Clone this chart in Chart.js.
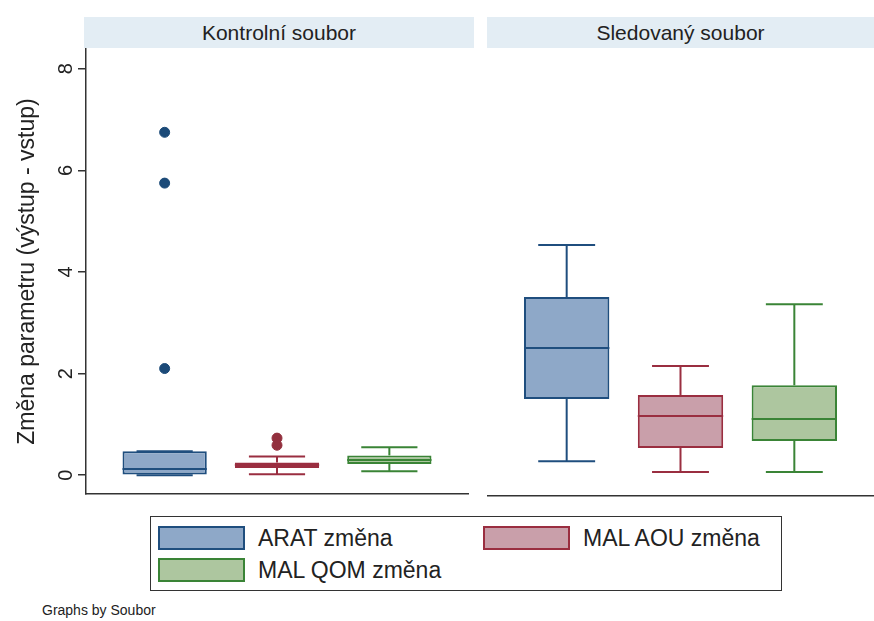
<!DOCTYPE html>
<html lang="cs">

<head>
  <meta charset="utf-8" />
  <title>Změna parametru</title>
  <script src="https://cdn.jsdelivr.net/npm/chart.js"></script>
  <style>
    body { margin: 0; background: #fff; font-family: "Liberation Sans", Arial, sans-serif; color: #222; }
    #wrap { position: relative; width: 874px; height: 621px; overflow: hidden; }
    canvas { position: absolute; top: 0; }
    .strip { position: absolute; top: 17px; height: 31px; background: #e3edf4; font-size: 21px; line-height: 31px; text-align: center; color: #222; }
    #legend { position: absolute; left: 150px; top: 516px; width: 630px; height: 73px; border: 1.5px solid #333; background: #fff; }
    .item { position: absolute; height: 24px; font-size: 23px; line-height: 24px; white-space: nowrap; }
    .swatch { display: inline-block; width: 83px; height: 20px; border: 2px solid; vertical-align: top; margin-right: 13px; }
    #note { position: absolute; left: 42px; top: 602px; font-size: 14px; color: #222; }
  </style>
</head>

<body>
  <div id="wrap">
    <div class="strip" id="strip0" style="left:84px;width:390px"></div>
    <div class="strip" id="strip1" style="left:487px;width:387px"></div>
    <canvas id="left" width="474" height="500" style="left:0"></canvas>
    <canvas id="right" width="387" height="500" style="left:487px"></canvas>
    <div id="legend"></div>
    <div id="note">Graphs by Soubor</div>
  </div>

  <script>
    const panels = ['Kontrolní soubor', 'Sledovaný soubor'];
    const series = ['ARAT změna', 'MAL AOU změna', 'MAL QOM změna'];
    const yTicks = [0, 2, 4, 6, 8];

    // Kontrolní soubor
    const kMin = [0, 0.02, 0.08];
    const kQ1 = [0, 0.14, 0.22];
    const kMed = [0.12, 0.2, 0.3];
    const kQ3 = [0.47, 0.25, 0.39];
    const kMax = [0.47, 0.37, 0.55];
    const kOut = [[2.1, 5.75, 6.75], [0.59, 0.73], []];

    // Sledovaný soubor
    const sMin = [0.31, 0.1, 0.1];
    const sQ1 = [1.53, 0.57, 0.71];
    const sMed = [2.53, 1.2, 1.14];
    const sQ3 = [3.53, 1.61, 1.8];
    const sMax = [4.55, 2.18, 3.39];
    const sOut = [[], [], []];

    const fills = ['#8ea8c8', '#c99faa', '#adc69f'];
    const lines = ['#1f4e7e', '#9a2e40', '#3a8436'];
    const dots = ['#1b4a78', '#93303e', '#3a8436'];

    const font = "'Liberation Sans', Arial, sans-serif";
    const axisColor = '#333';

    document.getElementById('strip0').textContent = panels[0];
    document.getElementById('strip1').textContent = panels[1];

    const legend = document.getElementById('legend');
    series.forEach((name, i) => {
      const el = document.createElement('div');
      el.className = 'item';
      el.style.left = (i % 2 ? 332 : 7) + 'px';
      el.style.top = (Math.floor(i / 2) ? 41 : 9) + 'px';
      el.innerHTML = `<span class="swatch" style="background:${fills[i]};border-color:${lines[i]}"></span>${name}`;
      legend.appendChild(el);
    });

    // whiskers, caps and medians drawn on top of the floating bars
    const boxExtras = {
      id: 'boxExtras',
      afterDatasetsDraw(chart) {
        const st = chart.options.plugins.boxExtras;
        const x = chart.scales.x, y = chart.scales.y;
        const ctx = chart.ctx;
        ctx.save();
        ctx.lineWidth = 2;
        for (let i = 0; i < series.length; i++) {
          ctx.strokeStyle = lines[i];
          const cx = x.getPixelForValue(i + 1);
          const capL = x.getPixelForValue(i + 1 - 0.25), capR = x.getPixelForValue(i + 1 + 0.25);
          const boxL = x.getPixelForValue(i + 1 - 0.375), boxR = x.getPixelForValue(i + 1 + 0.375);
          const seg = (x1, y1, x2, y2) => { ctx.beginPath(); ctx.moveTo(x1, y1); ctx.lineTo(x2, y2); ctx.stroke(); };
          seg(cx, y.getPixelForValue(st.q3[i]), cx, y.getPixelForValue(st.max[i]));
          seg(cx, y.getPixelForValue(st.q1[i]), cx, y.getPixelForValue(st.min[i]));
          seg(capL, y.getPixelForValue(st.max[i]), capR, y.getPixelForValue(st.max[i]));
          seg(capL, y.getPixelForValue(st.min[i]), capR, y.getPixelForValue(st.min[i]));
          seg(boxL, y.getPixelForValue(st.med[i]), boxR, y.getPixelForValue(st.med[i]));
        }
        ctx.restore();
      }
    };

    function makePanel(id, q1, med, q3, min, max, out, showY) {
      const boxes = series.map((_, i) => ({ x: i + 1, y: [q1[i], q3[i]] }));
      const points = [];
      const pointColors = [];
      out.forEach((vals, i) => vals.forEach(v => { points.push({ x: i + 1, y: v }); pointColors.push(dots[i]); }));

      return new Chart(document.getElementById(id), {
        type: 'bar',
        data: {
          datasets: [
            {
              data: boxes,
              backgroundColor: fills,
              borderColor: lines,
              borderWidth: 2,
              borderSkipped: false,
              barPercentage: 0.75,
              categoryPercentage: 1,
              grouped: false
            },
            {
              type: 'scatter',
              data: points,
              pointBackgroundColor: pointColors,
              pointBorderColor: pointColors,
              pointRadius: 5,
              pointHoverRadius: 5
            }
          ]
        },
        plugins: [boxExtras],
        options: {
          responsive: false,
          animation: false,
          layout: { padding: { top: 49, bottom: 4, left: 0, right: showY ? 1 : 0 } },
          plugins: {
            legend: { display: false },
            tooltip: { enabled: false },
            boxExtras: { q1, med, q3, min, max }
          },
          scales: {
            x: {
              type: 'linear',
              min: 0.3,
              max: 3.7,
              offset: false,
              afterBuildTicks(scale) { scale.ticks = series.map((_, i) => ({ value: i + 1 })); },
              grid: { display: false },
              ticks: { display: false },
              border: { display: true, color: axisColor, width: 1.5 },
              afterFit(scale) { scale.height = 0; scale.paddingLeft = 0; scale.paddingRight = 0; }
            },
            y: {
              display: showY,
              min: -0.37,
              max: 8.39,
              afterBuildTicks(scale) { scale.ticks = yTicks.map(v => ({ value: v })); },
              afterFit(scale) {
                scale.width = showY ? 86 : 0;
                scale.paddingTop = 0;
                scale.paddingBottom = 0;
              },
              grid: { display: true, drawOnChartArea: false, drawTicks: true, tickLength: 8, color: axisColor, lineWidth: 1.5 },
              border: { display: true, color: axisColor, width: 1.5 },
              ticks: {
                minRotation: 90,
                maxRotation: 90,
                crossAlign: 'center',
                padding: 6,
                color: '#222',
                font: { family: font, size: 20 }
              },
              title: {
                display: true,
                text: 'Změna parametru (výstup - vstup)',
                color: '#222',
                font: { family: font, size: 23 },
                padding: { top: 14, bottom: 0 }
              }
            }
          }
        }
      });
    }

    makePanel('left', kQ1, kMed, kQ3, kMin, kMax, kOut, true);
    makePanel('right', sQ1, sMed, sQ3, sMin, sMax, sOut, false);
  </script>
</body>

</html>
